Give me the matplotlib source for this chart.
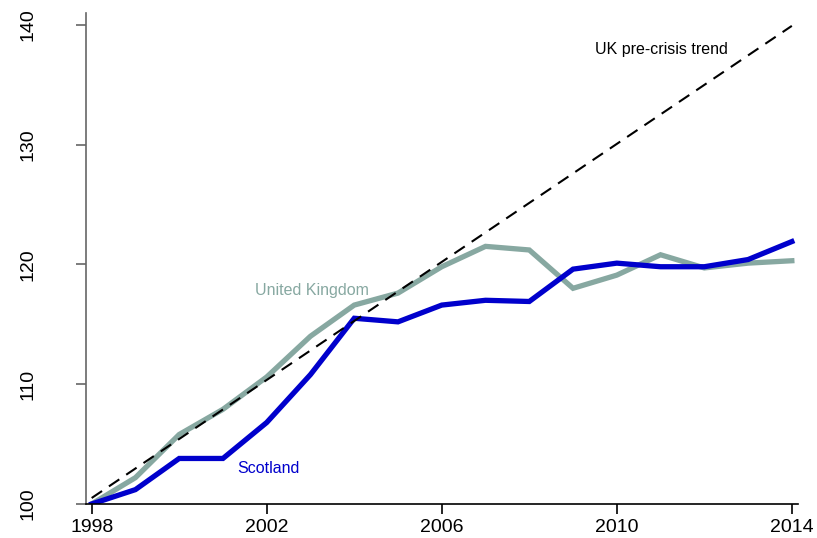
import matplotlib
matplotlib.use("Agg")
import matplotlib.pyplot as plt

# Index, 1998 = 100
years = list(range(1998, 2015))
uk = [100.0, 102.2, 105.8, 107.9, 110.6, 114.0, 116.6, 117.6, 119.8, 121.5,
      121.2, 118.0, 119.1, 120.8, 119.7, 120.1, 120.3]
scotland = [100.0, 101.2, 103.8, 103.8, 106.8, 110.8, 115.5, 115.2, 116.6, 117.0,
            116.9, 119.6, 120.1, 119.8, 119.8, 120.4, 121.9]
trend_years = [1998, 2014]
trend_values = [100.5, 139.9]

x_ticks = [1998, 2002, 2006, 2010, 2014]
y_ticks = [100, 110, 120, 130, 140]

plt.rcParams["font.family"] = ["Liberation Sans", "DejaVu Sans"]

colors = {
    "uk": "#87a8a1",
    "scotland": "#0000cc",
    "trend": "#000000",
}

fig = plt.figure(figsize=(8.17, 5.38), dpi=100)
ax = fig.add_axes([0.1047, 0.0632, 0.872, 0.9132])

ax.plot(trend_years, trend_values, color=colors["trend"], lw=1.5,
        dashes=(6, 4), zorder=3)
ax.plot(years, uk, color=colors["uk"], lw=3.8, solid_joinstyle="miter", zorder=2)
ax.plot(years, scotland, color=colors["scotland"], lw=3.8,
        solid_joinstyle="miter", zorder=2)

ax.text(2009.5, 137.9, "UK pre-crisis trend", fontsize=11.5,
        color=colors["trend"], va="center", ha="left")
ax.text(2001.73, 117.8, "United Kingdom", fontsize=11.5,
        color=colors["uk"], va="center", ha="left")
ax.text(2001.33, 103.0, "Scotland", fontsize=11.5,
        color=colors["scotland"], va="center", ha="left")

ax.set_xlim(1997.86, 2014.14)
ax.set_ylim(100, 141)

ax.spines["top"].set_visible(False)
ax.spines["right"].set_visible(False)
ax.spines["left"].set_color("#666666")
ax.spines["left"].set_linewidth(1.2)
ax.spines["bottom"].set_color("black")
ax.spines["bottom"].set_linewidth(1.2)
ax.spines["bottom"].set_bounds(1997.86, 2014.14)

ax.set_xticks(x_ticks)
ax.set_yticks(y_ticks)
ax.set_yticklabels([str(v) for v in y_ticks], rotation=90, va="center")
ax.tick_params(axis="x", length=7, width=1.2, color="black", labelsize=14, pad=4)
ax.tick_params(axis="y", length=7, width=1.2, color="#666666", labelsize=14, pad=28)

fig.savefig("out.png", dpi=100)
plt.close(fig)
